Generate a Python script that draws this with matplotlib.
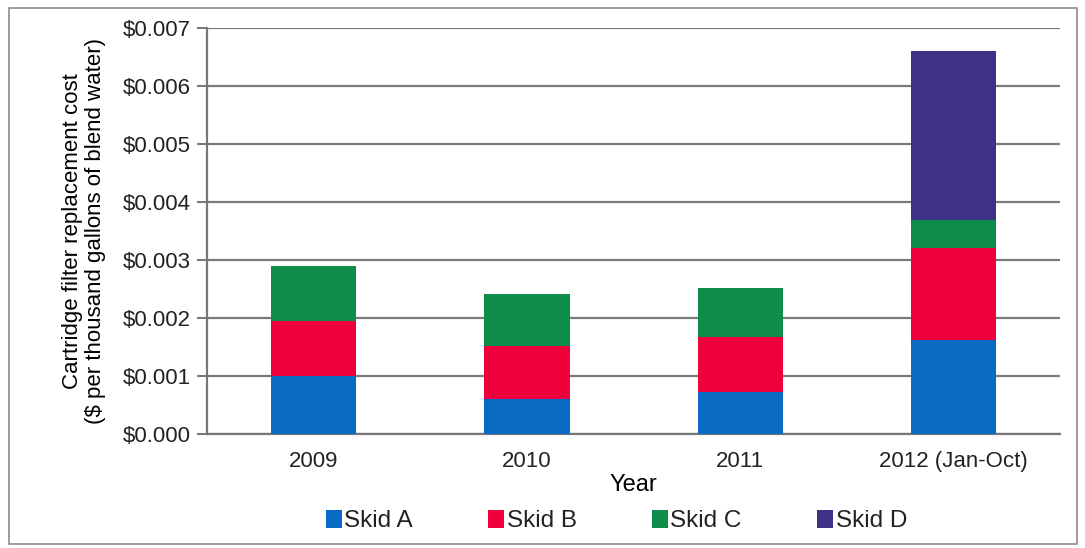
import matplotlib
matplotlib.use("Agg")
from matplotlib import pyplot as plt
from matplotlib.patches import Rectangle
from matplotlib.ticker import FuncFormatter

plt.rcParams['font.family'] = ['Liberation Sans', 'DejaVu Sans']
plt.rcParams['text.color'] = '#222222'
plt.rcParams['xtick.color'] = '#222222'
plt.rcParams['ytick.color'] = '#222222'

years = ['2009', '2010', '2011', '2012 (Jan-Oct)']
skid_a = [0.00100, 0.00060, 0.00073, 0.00162]
skid_b = [0.00095, 0.00092, 0.00095, 0.00158]
skid_c = [0.00095, 0.00089, 0.00083, 0.00049]
skid_d = [0.0, 0.0, 0.0, 0.00292]

series = [('Skid A', skid_a, '#0A6BC4'),
          ('Skid B', skid_b, '#EE003D'),
          ('Skid C', skid_c, '#0E8C4A'),
          ('Skid D', skid_d, '#3D3285')]

fig = plt.figure(figsize=(10.85, 5.48), dpi=100)
ax = fig.add_axes([0.191, 0.208, 0.786, 0.741])

x = range(len(years))
bottom = [0.0] * len(years)
for name, vals, col in series:
    ax.bar(x, vals, 0.40, bottom=bottom, color=col, label=name, zorder=3)
    bottom = [b + v for b, v in zip(bottom, vals)]

ax.set_xlim(-0.5, len(years) - 0.5)
ax.set_ylim(0, 0.007)
ax.set_yticks([i * 0.001 for i in range(8)])
ax.yaxis.set_major_formatter(FuncFormatter(lambda v, p: '$%.3f' % v))
ax.set_xticks(list(x))
ax.set_xticklabels(years)
ax.grid(axis='y', color='#7a7a7a', linewidth=1.6, zorder=0)
for s in ['top', 'right']:
    ax.spines[s].set_visible(False)
for s in ['left', 'bottom']:
    ax.spines[s].set_color('#777777')
    ax.spines[s].set_linewidth(1.6)
ax.tick_params(axis='y', length=7, color='#777777', width=1.4, labelsize=16, pad=5)
ax.tick_params(axis='x', length=0, labelsize=16, pad=12)

ax.set_xlabel('Year', fontsize=17, labelpad=2)
ax.set_ylabel('Cartridge filter replacement cost\n($ per thousand gallons of blend water)',
              fontsize=16, labelpad=12, linespacing=1.1)

fig.legend(loc='center', bbox_to_anchor=(0.568, 0.049), ncol=4, frameon=False,
           fontsize=17.5, handlelength=0.66, handleheight=0.74, handletextpad=0.1,
           columnspacing=3.1, borderaxespad=0)

fig.patches.append(Rectangle((0.008, 0.008), 0.985, 0.978, transform=fig.transFigure,
                             fill=False, edgecolor='#8c8c8c', linewidth=1.2))

fig.savefig('out.png', dpi=100)
